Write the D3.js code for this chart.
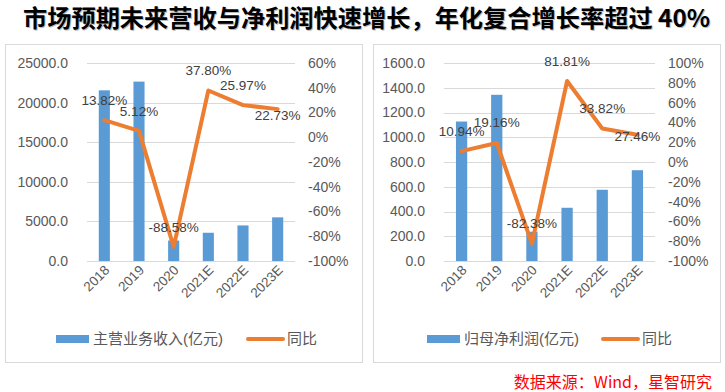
<!DOCTYPE html>
<html>
<head>
<meta charset="utf-8">
<script src="https://cdn.jsdelivr.net/npm/d3@7"></script>
<style>
  body { margin: 0; background: #fff; }
  svg { display: block; }
</style>
</head>
<body>
<svg width="725" height="392"></svg>
<script>
// data
var years = ["2018", "2019", "2020", "2021E", "2022E", "2023E"];
var revenue = [21550, 22650, 2587, 3565, 4491, 5512];          // 主营业务收入(亿元)
var revenueYoY = [13.82, 5.12, -88.58, 37.80, 25.97, 22.73];   // 同比 %
var profit = [1127, 1343, 236.6, 430.1, 575.6, 733.7];         // 归母净利润(亿元)
var profitYoY = [10.94, 19.16, -82.38, 81.81, 33.82, 27.46];   // 同比 %
var revenueTicks = [0, 5000, 10000, 15000, 20000, 25000];
var revenuePctTicks = [-100, -80, -60, -40, -20, 0, 20, 40, 60];
var profitTicks = [0, 200, 400, 600, 800, 1000, 1200, 1400, 1600];
var profitPctTicks = [-100, -80, -60, -40, -20, 0, 20, 40, 60, 80, 100];

var svg = d3.select("svg");
var barColor = "#5B9BD5", lineColor = "#ED7D31";
var axisColor = "#595959", gridColor = "#D9D9D9";
var latin = "'Liberation Sans', Arial, sans-serif";
var cjk = "'Liberation Sans', 'Noto Sans CJK SC', sans-serif";
var title = "市场预期未来营收与净利润快速增长，年化复合增长率超过 40%";

// title, with a faint shadow
[["#bbb", 1], ["#000", 0]].forEach(function(s) {
    svg.append("text")
        .attr("x", 23 + s[1]).attr("y", 27 + s[1])
        .attr("textLength", 687).attr("lengthAdjust", "spacingAndGlyphs")
        .attr("font-family", "'Noto Sans CJK SC', sans-serif")
        .attr("font-weight", "bold")
        .attr("font-size", 24)
        .attr("fill", s[0])
        .text(title);
});

function pctText(d) { return d.toFixed(2) + "%"; }

function drawPanel(opt) {
    var g = svg.append("g");

    g.append("rect")
        .attr("x", opt.box[0] + 0.5).attr("y", 44.5)
        .attr("width", opt.box[1] - opt.box[0]).attr("height", 318)
        .attr("fill", "#fff").attr("stroke", gridColor);

    var x = d3.scaleBand().domain(years)
        .range([opt.left, opt.right])
        .paddingInner(0.68).paddingOuter(0.34);
    var y = d3.scaleLinear().domain(d3.extent(opt.ticks)).range([261, 63]);
    var y2 = d3.scaleLinear().domain(d3.extent(opt.pctTicks)).range([261, 63]);

    // gridlines
    g.append("g").selectAll("line").data(opt.ticks).join("line")
        .attr("x1", opt.left).attr("x2", opt.right)
        .attr("y1", function(d) { return Math.round(y(d)) + 0.5; })
        .attr("y2", function(d) { return Math.round(y(d)) + 0.5; })
        .attr("stroke", gridColor);

    // left axis
    g.append("g").selectAll("text").data(opt.ticks).join("text")
        .attr("x", opt.left - 19).attr("y", function(d) { return y(d); })
        .attr("dy", "0.35em").attr("text-anchor", "end")
        .attr("font-family", latin).attr("font-size", 14).attr("fill", axisColor)
        .text(function(d) { return d.toFixed(1); });

    // right axis
    g.append("g").selectAll("text").data(opt.pctTicks).join("text")
        .attr("x", opt.right + 13).attr("y", function(d) { return y2(d); })
        .attr("dy", "0.35em")
        .attr("font-family", latin).attr("font-size", 14).attr("fill", axisColor)
        .text(function(d) { return d + "%"; });

    // bars
    g.append("g").selectAll("rect").data(opt.values).join("rect")
        .attr("x", function(d, i) { return x(years[i]); })
        .attr("y", function(d) { return y(d); })
        .attr("width", x.bandwidth())
        .attr("height", function(d) { return y(0) - y(d); })
        .attr("fill", barColor);

    // x labels
    g.append("g").selectAll("text").data(years).join("text")
        .attr("transform", function(d) {
            return "translate(" + (x(d) + x.bandwidth() / 2 + 6) + ",271) rotate(-45)";
        })
        .attr("text-anchor", "end")
        .attr("font-family", latin).attr("font-size", 13.5).attr("fill", axisColor)
        .text(function(d) { return d; });

    // line
    var line = d3.line()
        .x(function(d, i) { return x(years[i]) + x.bandwidth() / 2; })
        .y(function(d) { return y2(d); });
    g.append("path").datum(opt.pct)
        .attr("d", line)
        .attr("fill", "none").attr("stroke", lineColor)
        .attr("stroke-width", 4)
        .attr("stroke-linejoin", "round").attr("stroke-linecap", "round");

    // data labels
    g.append("g").selectAll("text").data(opt.pct).join("text")
        .attr("x", function(d, i) { return x(years[i]) + x.bandwidth() / 2; })
        .attr("y", function(d, i) { return y2(d) + opt.labelDy[i]; })
        .attr("dy", "0.35em").attr("text-anchor", "middle")
        .attr("font-family", latin).attr("font-size", 13.5).attr("fill", "#404040")
        .text(pctText);

    // legend
    var lg = g.append("g").attr("transform", "translate(0,339)");
    lg.append("rect").attr("x", opt.legend[0]).attr("y", -4)
        .attr("width", 33).attr("height", 8).attr("fill", barColor);
    lg.append("text").attr("x", opt.legend[0] + 37).attr("dy", "0.35em")
        .attr("font-family", cjk).attr("font-size", 15).attr("fill", axisColor)
        .text(opt.barName);
    lg.append("line").attr("x1", opt.legend[1]).attr("x2", opt.legend[1] + 35)
        .attr("stroke", lineColor).attr("stroke-width", 4)
        .attr("stroke-linecap", "round");
    lg.append("text").attr("x", opt.legend[1] + 39).attr("dy", "0.35em")
        .attr("font-family", cjk).attr("font-size", 15).attr("fill", axisColor)
        .text("同比");
}

drawPanel({
    box: [5, 362], left: 87, right: 295,
    ticks: revenueTicks, pctTicks: revenuePctTicks,
    values: revenue, pct: revenueYoY,
    labelDy: [-20, -20, -20, -20, -20, 6],
    legend: [56, 248], barName: "主营业务收入(亿元)"
});

drawPanel({
    box: [373, 720], left: 444, right: 655,
    ticks: profitTicks, pctTicks: profitPctTicks,
    values: profit, pct: profitYoY,
    labelDy: [-20, -21, -20, -20, -20, 1],
    legend: [427, 603], barName: "归母净利润(亿元)"
});

svg.append("text")
    .attr("x", 712).attr("y", 388)
    .attr("text-anchor", "end")
    .attr("font-family", "'Noto Sans CJK SC', sans-serif")
    .attr("font-size", 16).attr("fill", "#FF0000")
    .text("数据来源：Wind，星智研究");
</script>
</body>
</html>
